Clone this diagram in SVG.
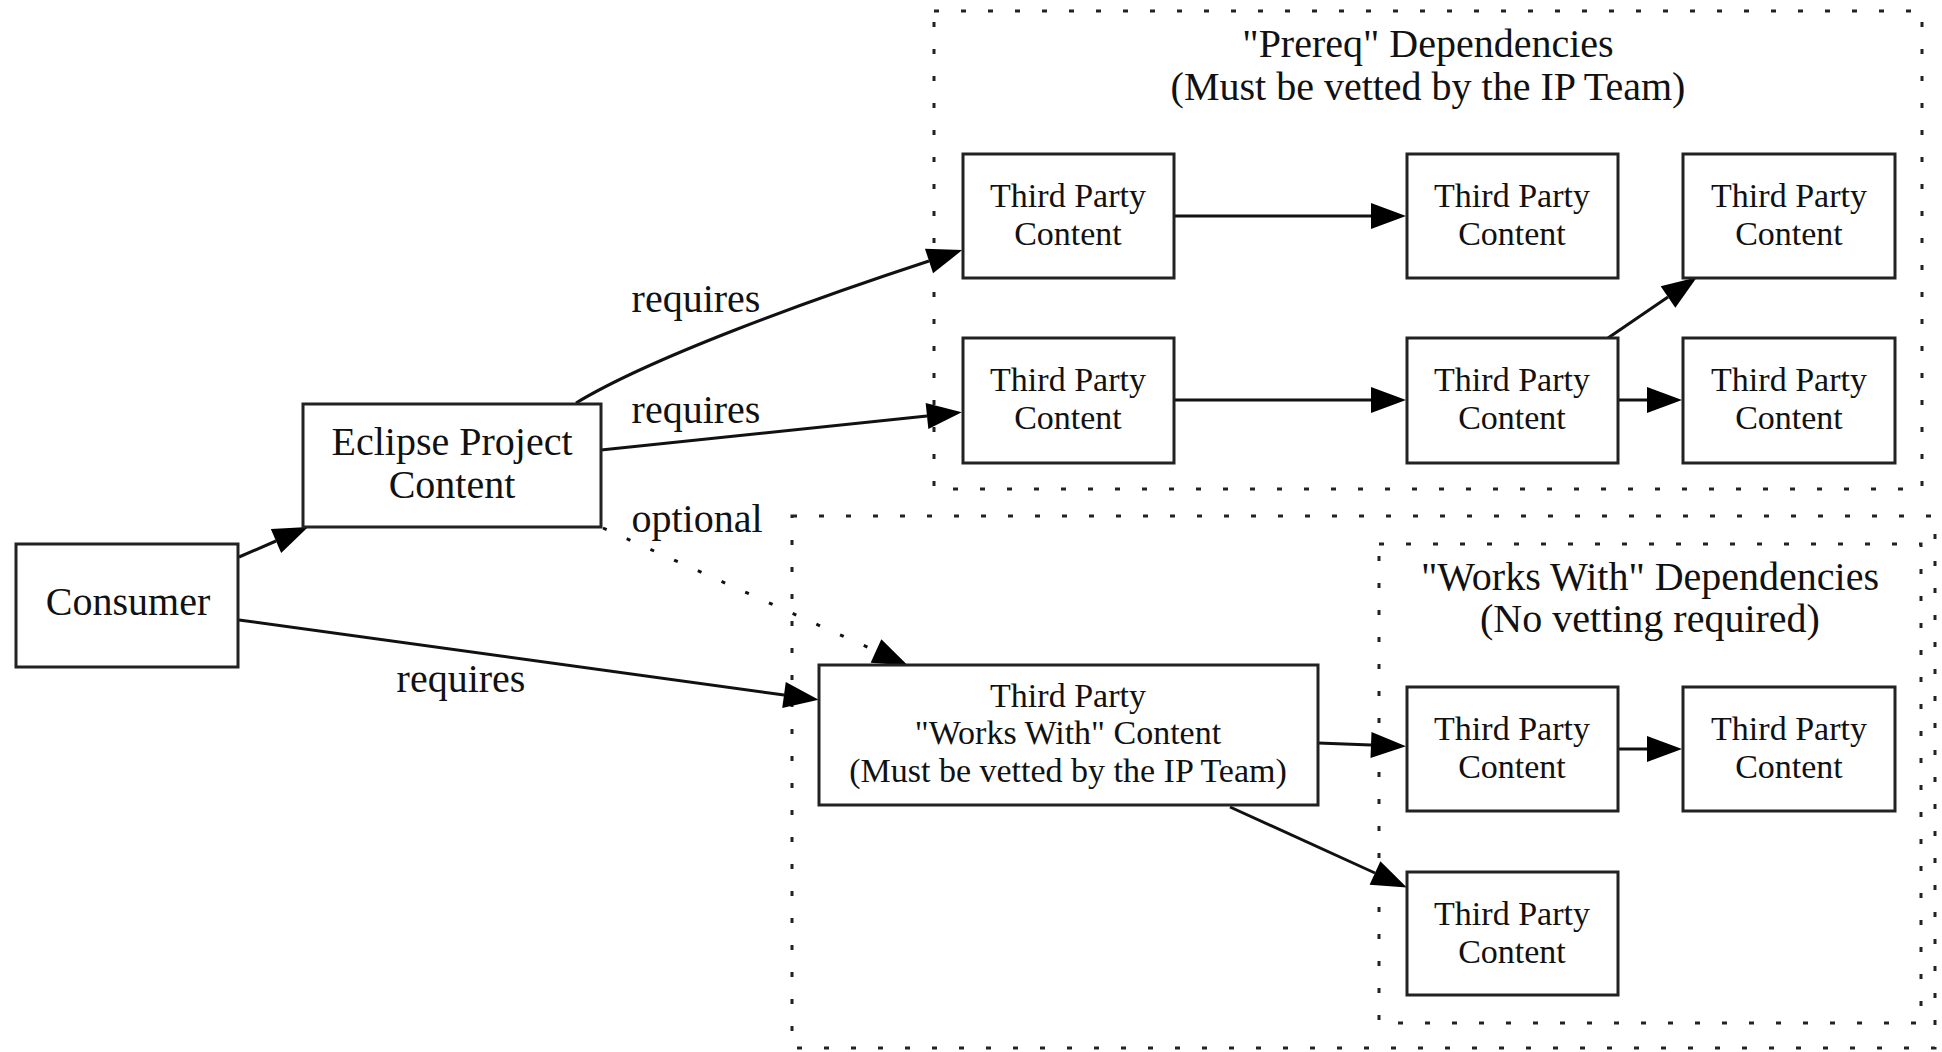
<svg xmlns="http://www.w3.org/2000/svg" width="1942" height="1052" viewBox="0 0 1942 1052">
<style>
.bg{fill:#ffffff}
.cluster{fill:none;stroke:#222;stroke-width:3;stroke-dasharray:5 22}
.node rect{fill:#ffffff;stroke:#222;stroke-width:3}
text{font-family:"Liberation Serif","Times New Roman",serif;fill:#111;text-anchor:middle}
.big{font-size:40px}
.small{font-size:34px}
.edge{fill:none;stroke:#111;stroke-width:3}
.dotted{stroke-dasharray:4 22}
</style>
<defs>
<marker id="arrow" markerUnits="userSpaceOnUse" markerWidth="40" markerHeight="30" refX="0" refY="13" orient="auto" overflow="visible">
<path d="M0,0 L35,13 L0,26 z" fill="#000" stroke="none"/>
</marker>
</defs>
<rect class="bg" x="0" y="0" width="1942" height="1052"/>

<g id="cluster-prereq">
<rect class="cluster" x="934" y="11" width="988" height="478"/>
<text class="big" x="1428" y="57">"Prereq" Dependencies</text>
<text class="big" x="1428" y="100">(Must be vetted by the IP Team)</text>
</g>
<g id="cluster-workswith-outer">
<rect class="cluster" x="792" y="516" width="1143" height="532"/>
</g>
<g id="cluster-workswith">
<rect class="cluster" x="1379" y="544" width="542" height="479"/>
<text class="big" x="1650" y="590">"Works With" Dependencies</text>
<text class="big" x="1650" y="632">(No vetting required)</text>
</g>

<g id="connectors">
<path class="edge" d="M239,557 L276,541" marker-end="url(#arrow)"/>
<path class="edge" d="M576,403 C650,358 810,300 929,261" marker-end="url(#arrow)"/>
<text class="big" x="696" y="312">requires</text>
<path class="edge" d="M601,450 L927,416" marker-end="url(#arrow)"/>
<text class="big" x="696" y="423">requires</text>
<path class="edge dotted" d="M603,528 L876,651" marker-end="url(#arrow)"/>
<text class="big" x="697" y="532">optional</text>
<path class="edge" d="M239,620 L784,695" marker-end="url(#arrow)"/>
<text class="big" x="461" y="692">requires</text>
<path class="edge" d="M1174,216 L1371,216" marker-end="url(#arrow)"/>
<path class="edge" d="M1174,400 L1371,400" marker-end="url(#arrow)"/>
<path class="edge" d="M1608,338 L1668,297" marker-end="url(#arrow)"/>
<path class="edge" d="M1619,400 L1647,400" marker-end="url(#arrow)"/>
<path class="edge" d="M1318,743 L1371,745" marker-end="url(#arrow)"/>
<path class="edge" d="M1619,749 L1647,749" marker-end="url(#arrow)"/>
<path class="edge" d="M1230,807 L1375,873" marker-end="url(#arrow)"/>
</g>

<g id="consumer" class="node">
<rect x="16" y="544" width="222" height="123"/>
<text class="big" x="128" y="615">Consumer</text>
</g>
<g id="eclipse" class="node">
<rect x="303" y="404" width="298" height="123"/>
<text class="big" x="452" y="455">Eclipse Project</text>
<text class="big" x="452" y="498">Content</text>
</g>
<g id="tp1" class="node">
<rect x="963" y="154" width="211" height="124"/>
<text class="small" x="1068" y="207">Third Party</text>
<text class="small" x="1068" y="245">Content</text>
</g>
<g id="tp2" class="node">
<rect x="1407" y="154" width="211" height="124"/>
<text class="small" x="1512" y="207">Third Party</text>
<text class="small" x="1512" y="245">Content</text>
</g>
<g id="tp3" class="node">
<rect x="1683" y="154" width="212" height="124"/>
<text class="small" x="1789" y="207">Third Party</text>
<text class="small" x="1789" y="245">Content</text>
</g>
<g id="tp4" class="node">
<rect x="963" y="338" width="211" height="125"/>
<text class="small" x="1068" y="391">Third Party</text>
<text class="small" x="1068" y="429">Content</text>
</g>
<g id="tp5" class="node">
<rect x="1407" y="338" width="211" height="125"/>
<text class="small" x="1512" y="391">Third Party</text>
<text class="small" x="1512" y="429">Content</text>
</g>
<g id="tp6" class="node">
<rect x="1683" y="338" width="212" height="125"/>
<text class="small" x="1789" y="391">Third Party</text>
<text class="small" x="1789" y="429">Content</text>
</g>
<g id="ww" class="node">
<rect x="819" y="665" width="499" height="140"/>
<text class="small" x="1068" y="707">Third Party</text>
<text class="small" x="1068" y="744">"Works With" Content</text>
<text class="small" x="1068" y="782">(Must be vetted by the IP Team)</text>
</g>
<g id="wwtp1" class="node">
<rect x="1407" y="687" width="211" height="124"/>
<text class="small" x="1512" y="740">Third Party</text>
<text class="small" x="1512" y="778">Content</text>
</g>
<g id="wwtp2" class="node">
<rect x="1683" y="687" width="212" height="124"/>
<text class="small" x="1789" y="740">Third Party</text>
<text class="small" x="1789" y="778">Content</text>
</g>
<g id="wwtp3" class="node">
<rect x="1407" y="872" width="211" height="123"/>
<text class="small" x="1512" y="925">Third Party</text>
<text class="small" x="1512" y="963">Content</text>
</g>
</svg>
